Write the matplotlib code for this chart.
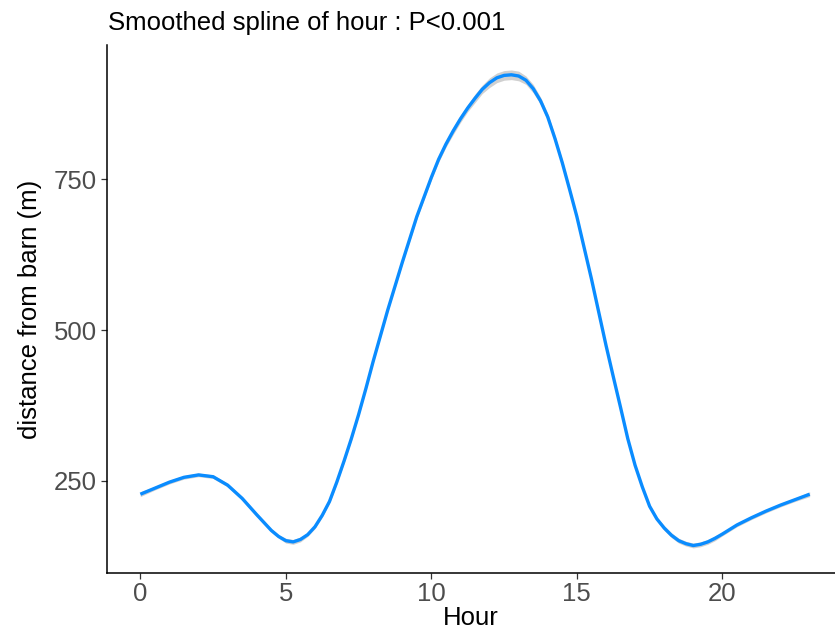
import numpy as np
from matplotlib import pyplot

# Smoothed fit (hour -> distance from barn, m)
hour = [0, 0.5, 1, 1.5, 2, 2.5, 3, 3.5, 4, 4.5,
        4.75, 5, 5.25, 5.5, 5.75, 6, 6.25, 6.5, 6.75, 7,
        7.25, 7.5, 7.75, 8, 8.5, 9, 9.5, 10, 10.25, 10.5,
        10.75, 11, 11.25, 11.5, 11.75, 12, 12.25, 12.5, 12.75, 13,
        13.25, 13.5, 13.75, 14, 14.25, 14.5, 14.75, 15, 15.5, 16,
        16.25, 16.5, 16.75, 17, 17.25, 17.5, 17.75, 18, 18.25, 18.5,
        18.75, 19, 19.25, 19.5, 19.75, 20, 20.5, 21, 21.5, 22,
        22.5, 23]
dist = [228, 238, 248, 256, 260, 257, 243, 221, 194, 168,
        158, 151, 149, 153, 161, 174, 193, 216, 248, 283,
        320, 360, 403, 448, 533, 612, 688, 753, 783, 808,
        830, 850, 868, 884, 899, 910, 918, 922, 923, 921,
        914, 900, 880, 853, 817, 777, 733, 688, 585, 475,
        423, 372, 320, 276, 240, 208, 187, 172, 160, 151,
        146, 143, 145, 149, 155, 162, 177, 189, 200, 210,
        219, 228]
# half width of the grey confidence band
band = [4, 3, 3, 3, 3, 3, 3, 3, 3, 3,
        3, 4, 4, 4, 3, 3, 3, 3, 3, 3,
        3, 3, 3, 3, 3, 3, 4, 4, 5, 5,
        6, 6, 6, 7, 7, 8, 8, 8, 8, 8,
        7, 7, 6, 6, 5, 5, 4, 4, 4, 3,
        3, 3, 3, 3, 3, 3, 3, 4, 4, 4,
        4, 4, 4, 4, 4, 3, 3, 3, 3, 3,
        3, 4]

hour = np.array(hour)
dist = np.array(dist)
band = np.array(band)

pyplot.rcParams['font.family'] = ['Liberation Sans', 'DejaVu Sans']

fig = pyplot.figure(figsize=(8.35, 6.37), dpi=100)
ax = fig.add_axes([0.128, 0.101, 0.872, 0.828])

ax.fill_between(hour, dist - band, dist + band, color='#d0d0d0', lw=0)
ax.plot(hour, dist, color='#0a8cff', lw=2.4, solid_capstyle='butt',
        solid_joinstyle='round')

ax.set_xlim(-1.15, 23.87)
ax.set_ylim(98, 972)
ax.set_xticks([0, 5, 10, 15, 20])
ax.set_yticks([250, 500, 750])

for side in ['top', 'right']:
    ax.spines[side].set_visible(False)
for side in ['left', 'bottom']:
    ax.spines[side].set_linewidth(1.1)
ax.tick_params(length=4, width=0.9, color='#333333', labelcolor='#4d4d4d',
               labelsize=18.5, pad=3)

ax.set_xlabel("Hour", fontsize=18.5, labelpad=0)
ax.set_ylabel("distance from barn (m)", fontsize=18.5, labelpad=9)
fig.text(0.129, 0.953, "Smoothed spline of hour : P<0.001", fontsize=18.5,
         ha='left', va='baseline')

pyplot.savefig("out.png", dpi=100)
